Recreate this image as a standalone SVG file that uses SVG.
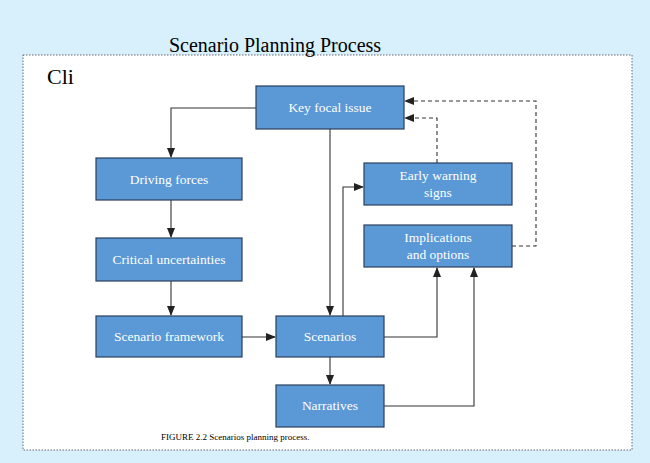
<svg xmlns="http://www.w3.org/2000/svg" width="650" height="463" viewBox="0 0 650 463">
<style>
.n rect{fill:#5a98d6;stroke:#2a3f5a;stroke-width:1.2}
.n text{fill:#fff;font-family:"Liberation Serif",serif;font-size:13.5px;text-anchor:middle}
.c path{fill:none;stroke:#333;stroke-width:1.1}
.c .d{stroke-dasharray:4 3}
</style>
<defs><marker id="a" markerWidth="10" markerHeight="8" refX="9" refY="4" orient="auto" markerUnits="userSpaceOnUse"><path d="M0,0L10,4L0,8z" fill="#222"/></marker></defs>
<rect width="650" height="463" fill="#d8f0fb"/>
<rect x="23" y="55" width="609" height="395" fill="#fff" stroke="#667" stroke-dasharray="1.5 1.5"/>
<text x="275" y="52" font-family="Liberation Serif,serif" font-size="20" text-anchor="middle">Scenario Planning Process</text>
<text x="47" y="84" font-family="Liberation Serif,serif" font-size="22">Cli</text>
<g class="c">
<path d="M256,108H171V157" marker-end="url(#a)"/>
<path d="M171,200V237" marker-end="url(#a)"/>
<path d="M171,281V315" marker-end="url(#a)"/>
<path d="M242,337H275" marker-end="url(#a)"/>
<path d="M330,129V315" marker-end="url(#a)"/>
<path d="M330,357V384" marker-end="url(#a)"/>
<path d="M343,316V187H363" marker-end="url(#a)"/>
<path d="M384,337H437V268" marker-end="url(#a)"/>
<path d="M384,406H474V268" marker-end="url(#a)"/>
<path class="d" d="M437,163V118H405" marker-end="url(#a)"/>
<path class="d" d="M512,246H536V101H405" marker-end="url(#a)"/>
</g>
<g id="key" class="n"><rect x="256" y="86" width="148" height="43"/><text x="330" y="112">Key focal issue</text></g>
<g id="early" class="n"><rect x="364" y="163" width="148" height="42"/><text x="438" y="180">Early warning</text><text x="438" y="197">signs</text></g>
<g id="impl" class="n"><rect x="364" y="225" width="148" height="42"/><text x="438" y="242">Implications</text><text x="438" y="259">and options</text></g>
<g id="driving" class="n"><rect x="96" y="158" width="146" height="42"/><text x="169" y="184">Driving forces</text></g>
<g id="critical" class="n"><rect x="96" y="238" width="146" height="43"/><text x="169" y="264">Critical uncertainties</text></g>
<g id="framework" class="n"><rect x="96" y="316" width="146" height="41"/><text x="169" y="341">Scenario framework</text></g>
<g id="scenarios" class="n"><rect x="276" y="316" width="108" height="41"/><text x="330" y="341">Scenarios</text></g>
<g id="narratives" class="n"><rect x="276" y="385" width="108" height="42"/><text x="330" y="410">Narratives</text></g>
<text x="161" y="440" font-family="Liberation Serif,serif" font-size="9">FIGURE 2.2 Scenarios planning process.</text>
</svg>
